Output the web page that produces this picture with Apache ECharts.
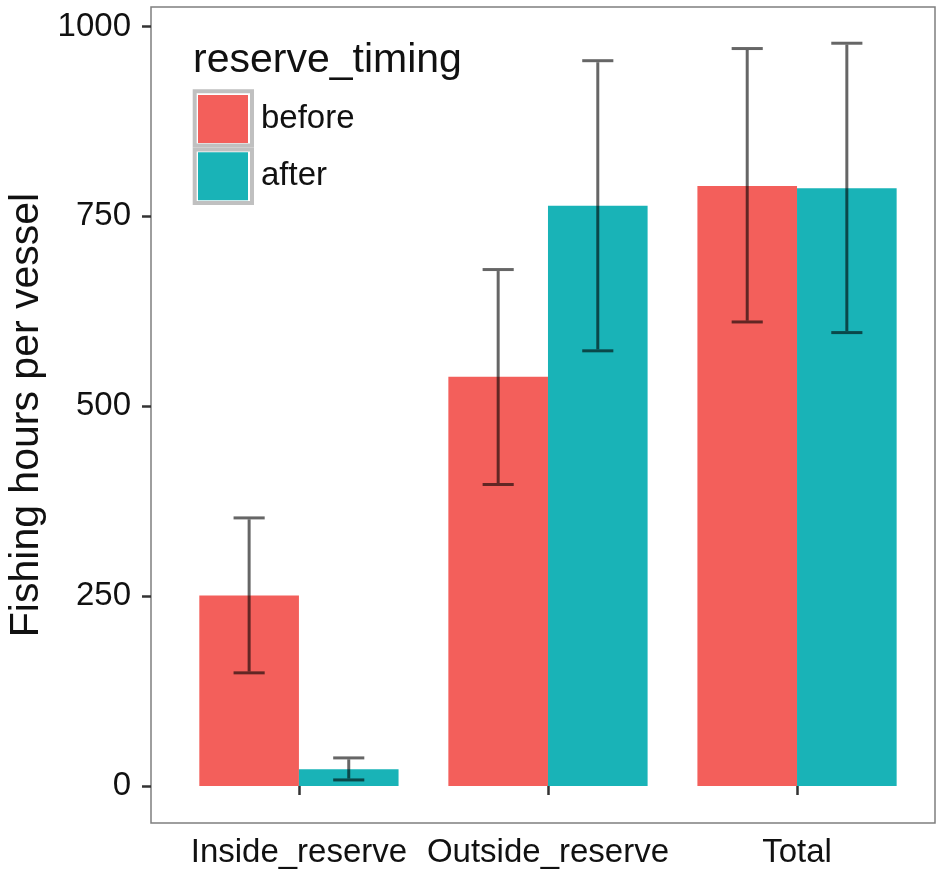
<!DOCTYPE html>
<html>
<head>
<meta charset="utf-8">
<script src="https://cdn.jsdelivr.net/npm/echarts@6/dist/echarts.min.js"></script>
<style>
html,body{margin:0;padding:0;background:#fff;}
#chart{width:937px;height:869px;}
</style>
</head>
<body>
<div id="chart"></div>
<script>
// ---- data ----
const categories = ['Inside_reserve', 'Outside_reserve', 'Total'];
const seriesNames = ['before', 'after'];
const beforeMean = [251, 539, 790];
const beforeLow  = [149, 397, 611];
const beforeHigh = [353, 680, 971];
const afterMean  = [22, 764, 787];
const afterLow   = [8, 573, 597];
const afterHigh  = [37, 955, 978];
const yTicks = [0, 250, 500, 750, 1000];
const xTicks = [1, 2, 3];

const colors = ['#F35F5B', '#19B3B7'];
const FONT = '"Liberation Sans", Arial, Helvetica, sans-serif';

function rows(mean, low, high) {
  return categories.map((c, i) => [i + 1, mean[i], low[i], high[i]]);
}

const BAR_W = 0.4;
const CAP_W = 0.125;

function barRender(offsetSign) {
  return function (params, api) {
    const x = api.value(0);
    const v = api.value(1);
    const left = offsetSign < 0 ? x - BAR_W : x;
    const right = offsetSign < 0 ? x : x + BAR_W;
    const p1 = api.coord([left, v]);
    const p2 = api.coord([right, 0]);
    return {
      type: 'rect',
      shape: { x: p1[0], y: p1[1], width: p2[0] - p1[0], height: p2[1] - p1[1] },
      style: { fill: api.visual('color') }
    };
  };
}

function errRender(offsetSign) {
  return function (params, api) {
    const cx = api.value(0) + offsetSign * BAR_W / 2;
    const lo = api.value(2);
    const hi = api.value(3);
    const pTop = api.coord([cx, hi]);
    const pBot = api.coord([cx, lo]);
    const capL = api.coord([cx - CAP_W / 2, hi])[0];
    const capR = api.coord([cx + CAP_W / 2, hi])[0];
    const st = { stroke: 'rgba(0,0,0,0.6)', lineWidth: 3, fill: null };
    return {
      type: 'group',
      children: [
        { type: 'line', shape: { x1: pTop[0], y1: pTop[1] + 1.5, x2: pBot[0], y2: pBot[1] - 1.5 }, style: st },
        { type: 'line', shape: { x1: capL, y1: pTop[1], x2: capR, y2: pTop[1] }, style: st },
        { type: 'line', shape: { x1: capL, y1: pBot[1], x2: capR, y2: pBot[1] }, style: st }
      ]
    };
  };
}

const chart = echarts.init(document.getElementById('chart'), null, { renderer: 'canvas' });

const option = {
  animation: false,
  backgroundColor: '#fff',
  textStyle: { fontFamily: FONT },
  grid: {
    left: 151, right: 2, top: 7, bottom: 46,
    containLabel: false,
    outerBoundsMode: 'none',
    show: true, borderColor: '#7f7f7f', borderWidth: 1.5, backgroundColor: 'transparent'
  },
  xAxis: {
    type: 'value',
    min: 0.406, max: 3.554,
    splitLine: { show: false },
    axisLine: { show: false },
    axisTick: { show: true, length: 9, customValues: xTicks, lineStyle: { color: '#333', width: 2.5 } },
    axisLabel: {
      customValues: xTicks,
      formatter: v => categories[Math.round(v) - 1] || '',
      fontSize: 33, color: '#111', fontFamily: FONT, margin: 13
    }
  },
  yAxis: {
    type: 'value',
    min: -48.7, max: 1025.7,
    name: 'Fishing hours per vessel',
    nameLocation: 'middle',
    nameGap: 104,
    nameTextStyle: { fontSize: 41, color: '#111', fontFamily: FONT },
    splitLine: { show: false },
    axisLine: { show: false },
    axisTick: { show: true, length: 9, customValues: yTicks, lineStyle: { color: '#333', width: 2.5 } },
    axisLabel: {
      customValues: yTicks,
      formatter: v => String(v),
      fontSize: 33, color: '#111', fontFamily: FONT, margin: 20
    }
  },
  legend: {
    data: seriesNames,
    orient: 'vertical',
    left: 198, top: 95,
    padding: 0,
    itemWidth: 50, itemHeight: 48, itemGap: 9.3,
    icon: 'rect',
    textStyle: { fontSize: 33, color: '#111', fontFamily: FONT, padding: [0, 0, 0, 8] }
  },
  graphic: [
    { type: 'text', left: 193, top: 40, z: 10,
      style: { text: 'reserve_timing', fontSize: 41, fill: '#111', fontFamily: FONT } },
    { type: 'rect', z: 10, shape: { x: 194.7, y: 91.3, width: 57.3, height: 54.2 },
      style: { fill: null, stroke: '#c0c0c0', lineWidth: 4 } },
    { type: 'rect', z: 10, shape: { x: 194.7, y: 149.5, width: 57.3, height: 53.5 },
      style: { fill: null, stroke: '#c0c0c0', lineWidth: 4 } }
  ],
  series: [
    { name: 'before', type: 'custom', itemStyle: { color: colors[0] },
      data: rows(beforeMean, beforeLow, beforeHigh), encode: { x: 0, y: [1, 2, 3] },
      renderItem: barRender(-1), z: 2 },
    { name: 'after', type: 'custom', itemStyle: { color: colors[1] },
      data: rows(afterMean, afterLow, afterHigh), encode: { x: 0, y: [1, 2, 3] },
      renderItem: barRender(1), z: 2 },
    { name: 'before_err', type: 'custom',
      data: rows(beforeMean, beforeLow, beforeHigh), encode: { x: 0, y: [1, 2, 3] },
      renderItem: errRender(-1), z: 3 },
    { name: 'after_err', type: 'custom',
      data: rows(afterMean, afterLow, afterHigh), encode: { x: 0, y: [1, 2, 3] },
      renderItem: errRender(1), z: 3 }
  ]
};
chart.setOption(option);
</script>
</body>
</html>
